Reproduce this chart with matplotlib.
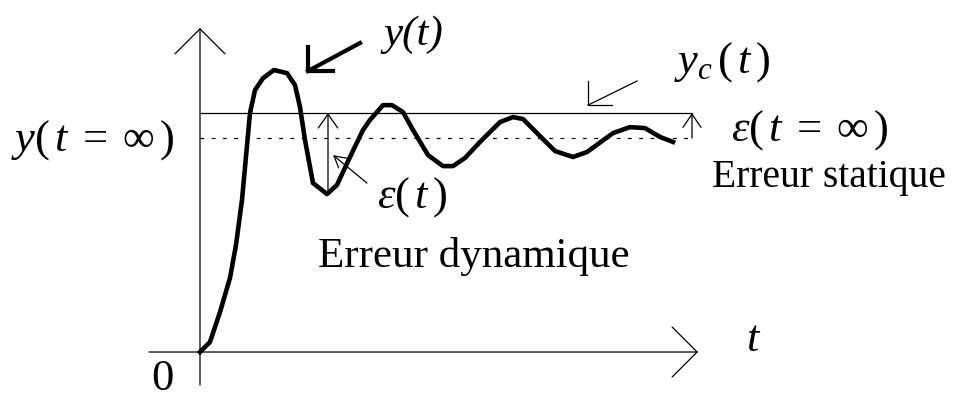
import numpy as np
import matplotlib.pyplot as plt

plt.rcParams['font.family'] = ['Liberation Serif', 'DejaVu Serif']
plt.rcParams['mathtext.fontset'] = 'custom'
plt.rcParams['mathtext.rm'] = 'Liberation Serif'
plt.rcParams['mathtext.it'] = 'Liberation Serif:italic'
plt.rcParams['mathtext.bf'] = 'Liberation Serif:bold'

# response y(t), consigne normalisee a 1
t = [0.00, 0.10, 0.20, 0.30, 0.36, 0.42, 0.50, 0.55, 0.63, 0.74, 0.87,
     0.95, 1.00, 1.05, 1.13, 1.27, 1.37, 1.50, 1.63, 1.70, 1.83, 1.92,
     2.03, 2.13, 2.28, 2.43, 2.53, 2.65, 2.80, 3.00, 3.13, 3.23, 3.37,
     3.55, 3.73, 3.87, 4.13, 4.30, 4.45, 4.60, 4.73]
y = [0.000, 0.042, 0.167, 0.310, 0.448, 0.636, 1.000, 1.096, 1.146, 1.180, 1.167,
     1.117, 1.025, 0.887, 0.707, 0.661, 0.699, 0.816, 0.929, 0.971, 1.033, 1.033,
     1.004, 0.929, 0.824, 0.778, 0.778, 0.812, 0.879, 0.962, 0.983, 0.975, 0.916,
     0.841, 0.816, 0.837, 0.916, 0.941, 0.937, 0.900, 0.879]
y_c = 1.0
y_inf = 0.895
t_end = 4.92
t_trough = 1.28
y_trough = 0.661

fig = plt.figure(figsize=(9.6, 4.01), dpi=100)
ax = fig.add_axes([0, 0, 1, 1])
ax.set_xlim(-2.0, 7.6)
ax.set_ylim(-0.205, 1.473)
ax.axis('off')

FS = 32


def arrow(x0, y0, x1, y1, hl, hw, lw=0.9):
    ax.annotate('', xy=(x1, y1), xytext=(x0, y0),
                arrowprops=dict(arrowstyle=f'->,head_length={hl},head_width={hw}',
                                mutation_scale=1, lw=lw, color='k',
                                shrinkA=0, shrinkB=0))


# axes
arrow(-0.51, 0, 4.98, 0, 18, 18)
arrow(0, -0.138, 0, 1.356, 18, 18)

# consigne et valeur finale
ax.plot([0, t_end], [y_c, y_c], color='k', lw=0.9)
ax.plot([0, t_end], [y_inf, y_inf], color='k', lw=0.9, ls=(0, (3, 6)))

# reponse
ax.plot(t, y, color='k', lw=3.3, solid_joinstyle='round')

# erreurs
arrow(t_trough, y_trough, t_trough, y_c, 10, 7)
arrow(t_end, y_inf, t_end, y_c, 9.5, 6.5)
arrow(1.67, 0.707, 1.33, 0.824, 8, 4.5)

# fleche y(t)
ax.plot([1.60, 1.08], [1.293, 1.176], color='k', lw=3)
ax.plot([1.08, 1.08, 1.33], [1.276, 1.176, 1.176], color='k', lw=3,
        solid_joinstyle='miter')

# fleche y_c(t)
ax.plot([4.37, 3.88], [1.134, 1.033], color='k', lw=0.9)
ax.plot([3.88, 3.88, 4.12], [1.134, 1.033, 1.033], color='k', lw=0.9)

# textes
ax.text(2.14, 1.326, 'y(t)', fontsize=31, style='italic', ha='center', va='center')
ax.text(-1.07, 0.887, r'$y(\,t\;=\;\infty\,)$', fontsize=FS, ha='center', va='center')
ax.text(6.10, 0.929, r'$\varepsilon(\,t\;=\;\infty\,)$', fontsize=FS, ha='center', va='center')
ax.text(5.22, 1.213, r'$y_c\,(\,t\,)$', fontsize=FS, ha='center', va='center')
ax.text(2.12, 0.649, r'$\varepsilon(\,t\,)$', fontsize=FS, ha='center', va='center')
ax.text(2.74, 0.356, 'Erreur dynamique', fontsize=31, ha='center', va='baseline')
ax.text(5.12, 0.690, 'Erreur statique', fontsize=28.5, ha='left', va='baseline')
ax.text(-0.38, -0.115, '0', fontsize=32, ha='center', va='center')
ax.text(5.54, 0.05, r'$t$', fontsize=FS, ha='center', va='center')

fig.savefig('out.png', dpi=100)
